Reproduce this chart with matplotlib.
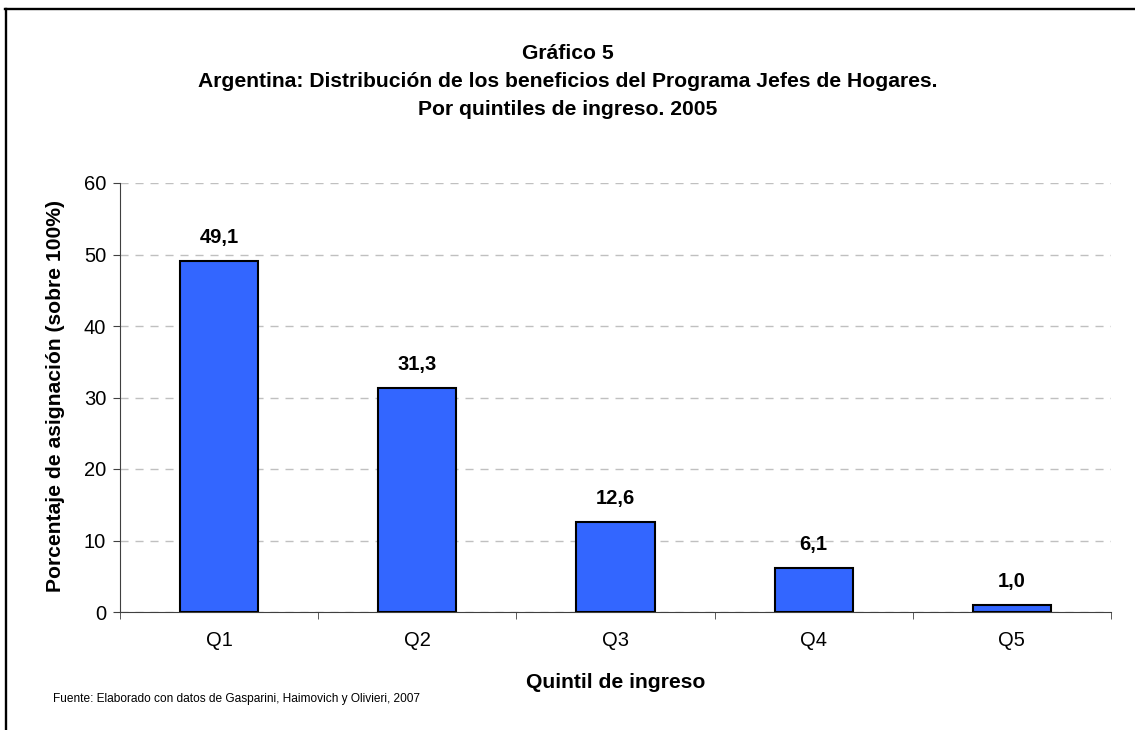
import matplotlib
matplotlib.use("Agg")
from matplotlib import pyplot as plt
from matplotlib.lines import Line2D
import numpy as np

# Data
quintiles = ["Q1", "Q2", "Q3", "Q4", "Q5"]
shares = [49.1, 31.3, 12.6, 6.1, 1.0]
y_ticks = [0, 10, 20, 30, 40, 50, 60]

title_lines = ["Gráfico 5",
               "Argentina: Distribución de los beneficios del Programa Jefes de Hogares.",
               "Por quintiles de ingreso. 2005"]
source_note = "Fuente: Elaborado con datos de Gasparini, Haimovich y Olivieri, 2007"

plt.rcParams['font.family'] = ['Liberation Sans', 'DejaVu Sans']

W, H = 1135, 730
fig = plt.figure(figsize=(W / 100, H / 100), dpi=100)
ax = fig.add_axes([120 / W, 1 - 612 / H, (1111 - 120) / W, (612 - 183) / H])

x = np.arange(len(quintiles))
bars = ax.bar(x, shares, width=0.395, color='#3366FF', edgecolor='black',
              linewidth=1.5, zorder=3)

# Value labels above bars, decimal comma
for rect, val in zip(bars, shares):
    ax.annotate(f"{val:.1f}".replace('.', ','),
                (rect.get_x() + rect.get_width() / 2, rect.get_height()),
                xytext=(0, 13), textcoords='offset points',
                ha='center', va='baseline', fontsize=14.5, fontweight='bold')

ax.set_xlim(-0.5, len(quintiles) - 0.5)
ax.set_ylim(0, 60)
ax.set_yticks(y_ticks)
ax.set_xticks(x)
ax.set_xticklabels(quintiles, fontsize=14.5)
ax.tick_params(axis='x', length=0, pad=14)
ax.tick_params(axis='y', labelsize=14.5, length=5, direction='out',
               color='#404040', pad=5)
# ticks at category boundaries
ax.set_xticks(np.arange(len(quintiles) + 1) - 0.5, minor=True)
ax.tick_params(axis='x', which='minor', length=5, direction='out', color='#404040')

ax.grid(axis='y', linestyle=(0, (5.8, 5)), color='#C0C0C0', linewidth=1, zorder=0)
for side in ['top', 'right']:
    ax.spines[side].set_visible(False)
for side in ['left', 'bottom']:
    ax.spines[side].set_color('#404040')

# axis titles placed in figure pixels to match the reference
fig.text(55.5 / W, 1 - 396 / H, 'Porcentaje de asignación (sobre 100%)',
         rotation=90, ha='center', va='center', fontsize=15.2, fontweight='bold')
fig.text(615.5 / W, 1 - 688 / H, 'Quintil de ingreso',
         ha='center', va='baseline', fontsize=15.2, fontweight='bold')

for y_px, line in zip([59, 87, 115], title_lines):
    fig.text(0.5, 1 - y_px / H, line, ha='center', va='baseline',
             fontsize=15.2, fontweight='bold')

fig.text(53 / W, 1 - 702 / H, source_note, ha='left', va='baseline', fontsize=8.6)

# outer frame (only left and top edges are inside the picture)
fig.add_artist(Line2D([6 / W, 6 / W], [0, 1 - 8.5 / H], color='black',
                      linewidth=1.7, transform=fig.transFigure))
fig.add_artist(Line2D([5 / W, 1], [1 - 8.5 / H, 1 - 8.5 / H], color='black',
                      linewidth=1.7, transform=fig.transFigure))

fig.savefig('out.png', dpi=100)
